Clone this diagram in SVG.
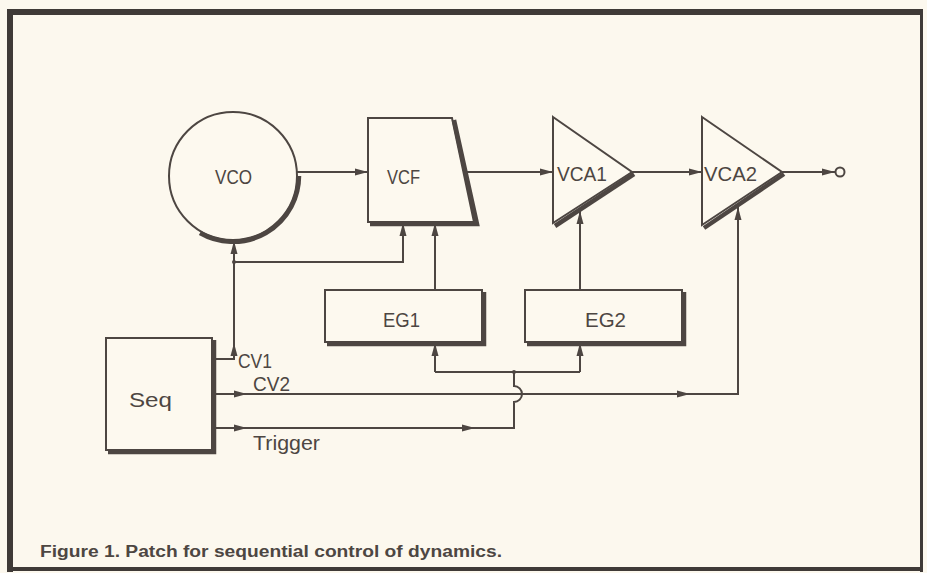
<svg xmlns="http://www.w3.org/2000/svg" width="927" height="573" viewBox="0 0 927 573">
<style>
.ln{fill:none;stroke:#4d4642;stroke-width:2;stroke-linejoin:miter}
.nd{fill:#fdf9ef;stroke:#4d4642;stroke-width:2}
.sh{fill:none;stroke:#4d4642;stroke-width:4.5;stroke-linecap:butt}
.t{font-family:"Liberation Sans","DejaVu Sans",sans-serif;font-size:21px;fill:#4d4642;text-anchor:start}
.cap{font-family:"Liberation Sans","DejaVu Sans",sans-serif;font-size:16px;font-weight:bold;fill:#4d4642}
</style>
<defs>
<marker id="arr" markerUnits="userSpaceOnUse" markerWidth="14" markerHeight="9" refX="13" refY="4" orient="auto">
<path d="M0,0.5 L13,4 L0,7.5 z" fill="#4d4642"/>
</marker>
</defs>
<rect x="0" y="0" width="927" height="573" fill="#fcf8ee"/>
<g id="frame" fill="#3f3a37">
<rect x="7" y="9" width="916" height="6"/>
<rect x="7" y="9" width="6" height="563"/>
<rect x="920" y="9" width="3" height="563"/>
<rect x="7" y="567" width="916" height="4"/>
</g>
<g id="connectors" class="ln">
<path class="ln" d="M297,172 H368" marker-end="url(#arr)"/>
<path class="ln" d="M462,172 H553" marker-end="url(#arr)"/>
<path class="ln" d="M632,172 H702" marker-end="url(#arr)"/>
<path class="ln" d="M782,172 H835" marker-end="url(#arr)"/>
<path class="ln" d="M213,359 H234 V343" marker-end="url(#arr)"/>
<path class="ln" d="M234,344 V262"/>
<path class="ln" d="M234,262 V241" marker-end="url(#arr)"/>
<path class="ln" d="M234,262 H403 V223" marker-end="url(#arr)"/>
<path class="ln" d="M435,290 V223" marker-end="url(#arr)"/>
<path class="ln" d="M580,290 V211" marker-end="url(#arr)"/>
<path class="ln" d="M213,394 H247" marker-end="url(#arr)"/>
<path class="ln" d="M246,394 H690" marker-end="url(#arr)"/>
<path class="ln" d="M689,394 H738 V207" marker-end="url(#arr)"/>
<path class="ln" d="M213,428 H247" marker-end="url(#arr)"/>
<path class="ln" d="M246,428 H475" marker-end="url(#arr)"/>
<path class="ln" d="M474,428 H514 V402 A8,8 0 0 0 514,386 V372"/>
<path class="ln" d="M435,372 H580"/>
<path class="ln" d="M435,372 V343" marker-end="url(#arr)"/>
<path class="ln" d="M580,372 V343" marker-end="url(#arr)"/>
<circle cx="234" cy="262" r="2" fill="#4d4642" stroke="none"/>
<circle cx="514" cy="372" r="2" fill="#4d4642" stroke="none"/>
</g>
<g id="VCO">
<circle class="nd" cx="233" cy="176" r="64"/>
<path class="sh" d="M299,176 A66,66 0 0 1 200,233"/>
<text class="t" x="215" y="184" textLength="37" lengthAdjust="spacingAndGlyphs">VCO</text>
</g>
<g id="VCF">
<path class="nd" d="M368,118 H452 L474,222 H368 Z"/>
<path class="sh" d="M454,120 L477,224 H370"/>
<text class="t" x="387" y="184" textLength="33" lengthAdjust="spacingAndGlyphs">VCF</text>
</g>
<g id="VCA1">
<path class="nd" d="M553,117 L632,172 L553,223 Z"/>
<path class="sh" d="M555,226 L634,174"/>
<text class="t" x="557" y="181" textLength="50" lengthAdjust="spacingAndGlyphs">VCA1</text>
</g>
<g id="VCA2">
<path class="nd" d="M702,117 L782,172 L702,225 Z"/>
<path class="sh" d="M704,228 L784,174"/>
<text class="t" x="704" y="181" textLength="53" lengthAdjust="spacingAndGlyphs">VCA2</text>
</g>
<g id="out">
<circle cx="840" cy="172" r="4.5" fill="#fcf8ee" stroke="#4d4642" stroke-width="2"/>
</g>
<g id="EG1">
<rect class="nd" x="325" y="290" width="157" height="52"/>
<path class="sh" d="M484,292 V344 H327"/>
<text class="t" x="383" y="327" textLength="37" lengthAdjust="spacingAndGlyphs">EG1</text>
</g>
<g id="EG2">
<rect class="nd" x="525" y="290" width="157" height="52"/>
<path class="sh" d="M684,292 V344 H527"/>
<text class="t" x="585" y="327" textLength="41" lengthAdjust="spacingAndGlyphs">EG2</text>
</g>
<g id="Seq">
<rect class="nd" x="106" y="338" width="106" height="112"/>
<path class="sh" d="M214,340 V452 H108"/>
<text class="t" x="129" y="407" textLength="43" lengthAdjust="spacingAndGlyphs">Seq</text>
</g>
<g id="labels">
<text class="t" x="238" y="368" textLength="34" lengthAdjust="spacingAndGlyphs">CV1</text>
<text class="t" x="253" y="391" textLength="37" lengthAdjust="spacingAndGlyphs">CV2</text>
<text class="t" x="253" y="450" textLength="67" lengthAdjust="spacingAndGlyphs">Trigger</text>
</g>
<text class="cap" x="40" y="557" textLength="462" lengthAdjust="spacingAndGlyphs">Figure 1. Patch for sequential control of dynamics.</text>
</svg>
